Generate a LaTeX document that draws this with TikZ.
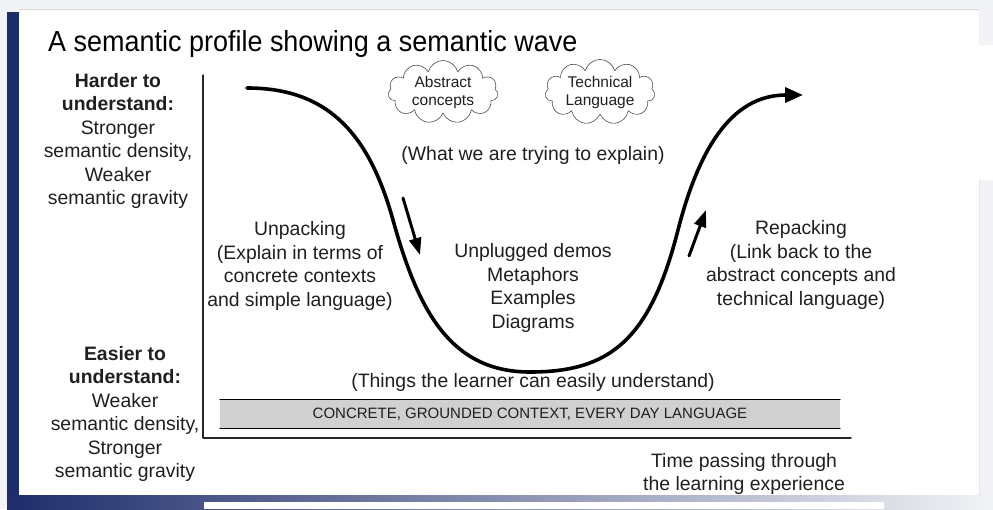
\documentclass[tikz,border=0pt]{standalone}
\usepackage{fontspec}
\setmainfont{Liberation Sans}
\usetikzlibrary{arrows.meta,shapes.symbols}

\definecolor{slideblue}{HTML}{1E2D6B}
\definecolor{slidegray}{HTML}{F2F3F6}
\definecolor{bandgray}{HTML}{D0D0D0}

\begin{document}
\begin{tikzpicture}[
			x=1pt,
			y=-1pt,
			line cap=round,
			line join=round,
			every node/.style={font=\fontsize{19.4}{23.4}\selectfont, align=center, inner sep=0pt, text=black!88},
			wave/.style={line width=3.6pt, -{Triangle[length=18pt,width=15pt]}},
			push/.style={line width=3pt, -{Triangle[length=17pt,width=12pt]}},
			axis/.style={line width=1.4pt, black!85},
			thought/.style={cloud, cloud puffs=11, cloud ignores aspect, draw=black!70, line width=0.6pt,
				minimum width=110pt, minimum height=44pt, font=\fontsize{15.5}{18}\selectfont}
			]
			% Slide background
			\fill[slidegray] (0,0) rectangle (993,509);
			\fill[white] (19,9) rectangle (979,495);
			\fill[white] (979,45) rectangle (993,180);
			\draw[black!15] (19,9) -- (979,9);
			\draw[black!10] (979,180) -- (979,495);
			\fill[slideblue] (7,12) rectangle (19,495);
			\shade[left color=slideblue, right color=slidegray] (7,495) rectangle (993,509);
			\fill[white] (204,502) rectangle (884,509);
			
			% Title
			\node[font=\fontsize{29}{34}\selectfont, anchor=base west, text=black] (title) at (48,51)
			{\scalebox{0.93}[1]{A semantic profile showing a semantic wave}};
			
			% Axes
			\coordinate (ytop) at (203,75);
			\coordinate (origin) at (203,438);
			\coordinate (xend) at (851,438);
			\draw[axis] (ytop) -- (origin) -- (xend);
			
			% Concrete band at the bottom
			\node[fill=bandgray, minimum width=620pt, minimum height=28pt, font=\fontsize{15}{18}\selectfont] (band) at (530,414)
			{CONCRETE, GROUNDED CONTEXT, EVERY DAY LANGUAGE};
			\draw[line width=0.9pt] (band.north west) -- (band.north east);
			\draw[line width=0.9pt] (band.south west) -- (band.south east);
			
			% Axis labels
			\node (harder) at (118,141)
			{\textbf{Harder to}\\\textbf{understand:}\\Stronger\\semantic density,\\Weaker\\semantic gravity};
			\node (easier) at (125,414)
			{\textbf{Easier to}\\\textbf{understand:}\\Weaker\\semantic density,\\Stronger\\semantic gravity};
			\node (time) at (744,474) {Time passing through\\the learning experience};
			
			% Clouds
			\node[thought] (abstract) at (443,92) {Abstract\\concepts};
			\node[thought] (technical) at (600,92) {Technical\\Language};
			
			% Labels along the wave
			\node (goal) at (533,155) {(What we are trying to explain)};
			\node (unpack) at (300,266) {Unpacking\\(Explain in terms of\\concrete contexts\\and simple language)};
			\node (examples) at (533,288) {Unplugged demos\\Metaphors\\Examples\\Diagrams};
			\node (repack) at (801,265) {Repacking\\(Link back to the\\abstract concepts and\\technical language)};
			\node (easy) at (533,382) {(Things the learner can easily understand)};
			
			% The semantic wave
			\draw[wave]
			(247,88) .. controls (325,88) and (368,130) ..
			(393,220) .. controls (418,310) and (450,372) ..
			(530,372) .. controls (610,372) and (650,340) ..
			(678,230) .. controls (698,152) and (730,95) ..
			(803,95);
			
			% Direction arrows
			\coordinate (down-from) at (403,198);
			\coordinate (down-to) at (420,255);
			\coordinate (up-from) at (689,256);
			\coordinate (up-to) at (706,210);
			\draw[push] (down-from) -- (down-to);
			\draw[push] (up-from) -- (up-to);
		\end{tikzpicture}
\end{document}
